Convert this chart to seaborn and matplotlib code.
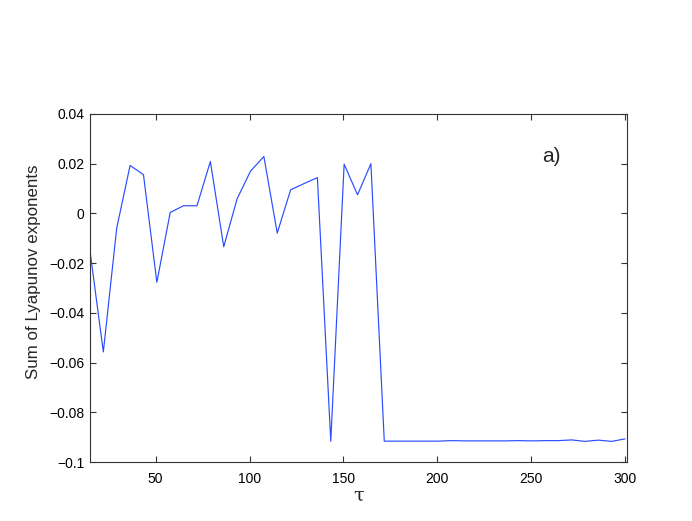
import numpy as np
import pandas as pd
import matplotlib
matplotlib.use("Agg")
import matplotlib.pyplot as plt
import seaborn as sns

tau = np.linspace(15, 300, 41)
lyap_sum = [
    -0.0150, -0.0557, -0.0059, 0.0193, 0.0156, -0.0277, 0.0004, 0.0031,
    0.0031, 0.0209, -0.0134, 0.0059, 0.0170, 0.0229, -0.0079, 0.0095,
    0.0120, 0.0144, -0.0916, 0.0198, 0.0075, 0.0200, -0.0916, -0.0916,
    -0.0916, -0.0916, -0.0916, -0.0914, -0.0915, -0.0915, -0.0915, -0.0915,
    -0.0914, -0.0915, -0.0914, -0.0914, -0.0911, -0.0917, -0.0912, -0.0917,
    -0.0907,
]
x_ticks = [50, 100, 150, 200, 250, 300]
y_ticks = [-0.1, -0.08, -0.06, -0.04, -0.02, 0, 0.02, 0.04]
y_ticklabels = ["\u22120.1", "\u22120.08", "\u22120.06", "\u22120.04", "\u22120.02", "0", "0.02", "0.04"]

df = pd.DataFrame({"tau": tau, "S": lyap_sum})

sns.set_theme(style="ticks")
plt.rcParams["font.family"] = ["Liberation Sans", "DejaVu Sans"]

fig = plt.figure(figsize=(6.92, 5.21), dpi=100)
ax = fig.add_axes([0.130, 0.1132, 0.776, 0.668])
sns.lineplot(data=df, x="tau", y="S", ax=ax, color="#2a4cff", linewidth=0.85)

ax.set_xlim(15, 301)
ax.set_ylim(-0.1, 0.04)
ax.set_xticks(x_ticks)
ax.set_yticks(y_ticks)
ax.set_yticklabels(y_ticklabels)
ax.tick_params(direction="in", length=4, width=0.8, labelsize=10,
               top=True, right=True, colors="#333333", labelcolor="black")
ax.tick_params(axis="x", pad=7)
ax.tick_params(axis="y", pad=4)
for s in ax.spines.values():
    s.set_visible(True)
    s.set_color("#333333")
    s.set_linewidth(0.8)

ax.set_xlabel("τ", fontsize=14, family=["DejaVu Serif"], labelpad=1)
ax.set_ylabel("Sum of Lyapunov exponents", fontsize=12.2, va="center")
ax.yaxis.set_label_coords(-0.106, 0.546)
ax.text(256, 0.0205, "a)", fontsize=15)

fig.savefig("out.png", dpi=100)
